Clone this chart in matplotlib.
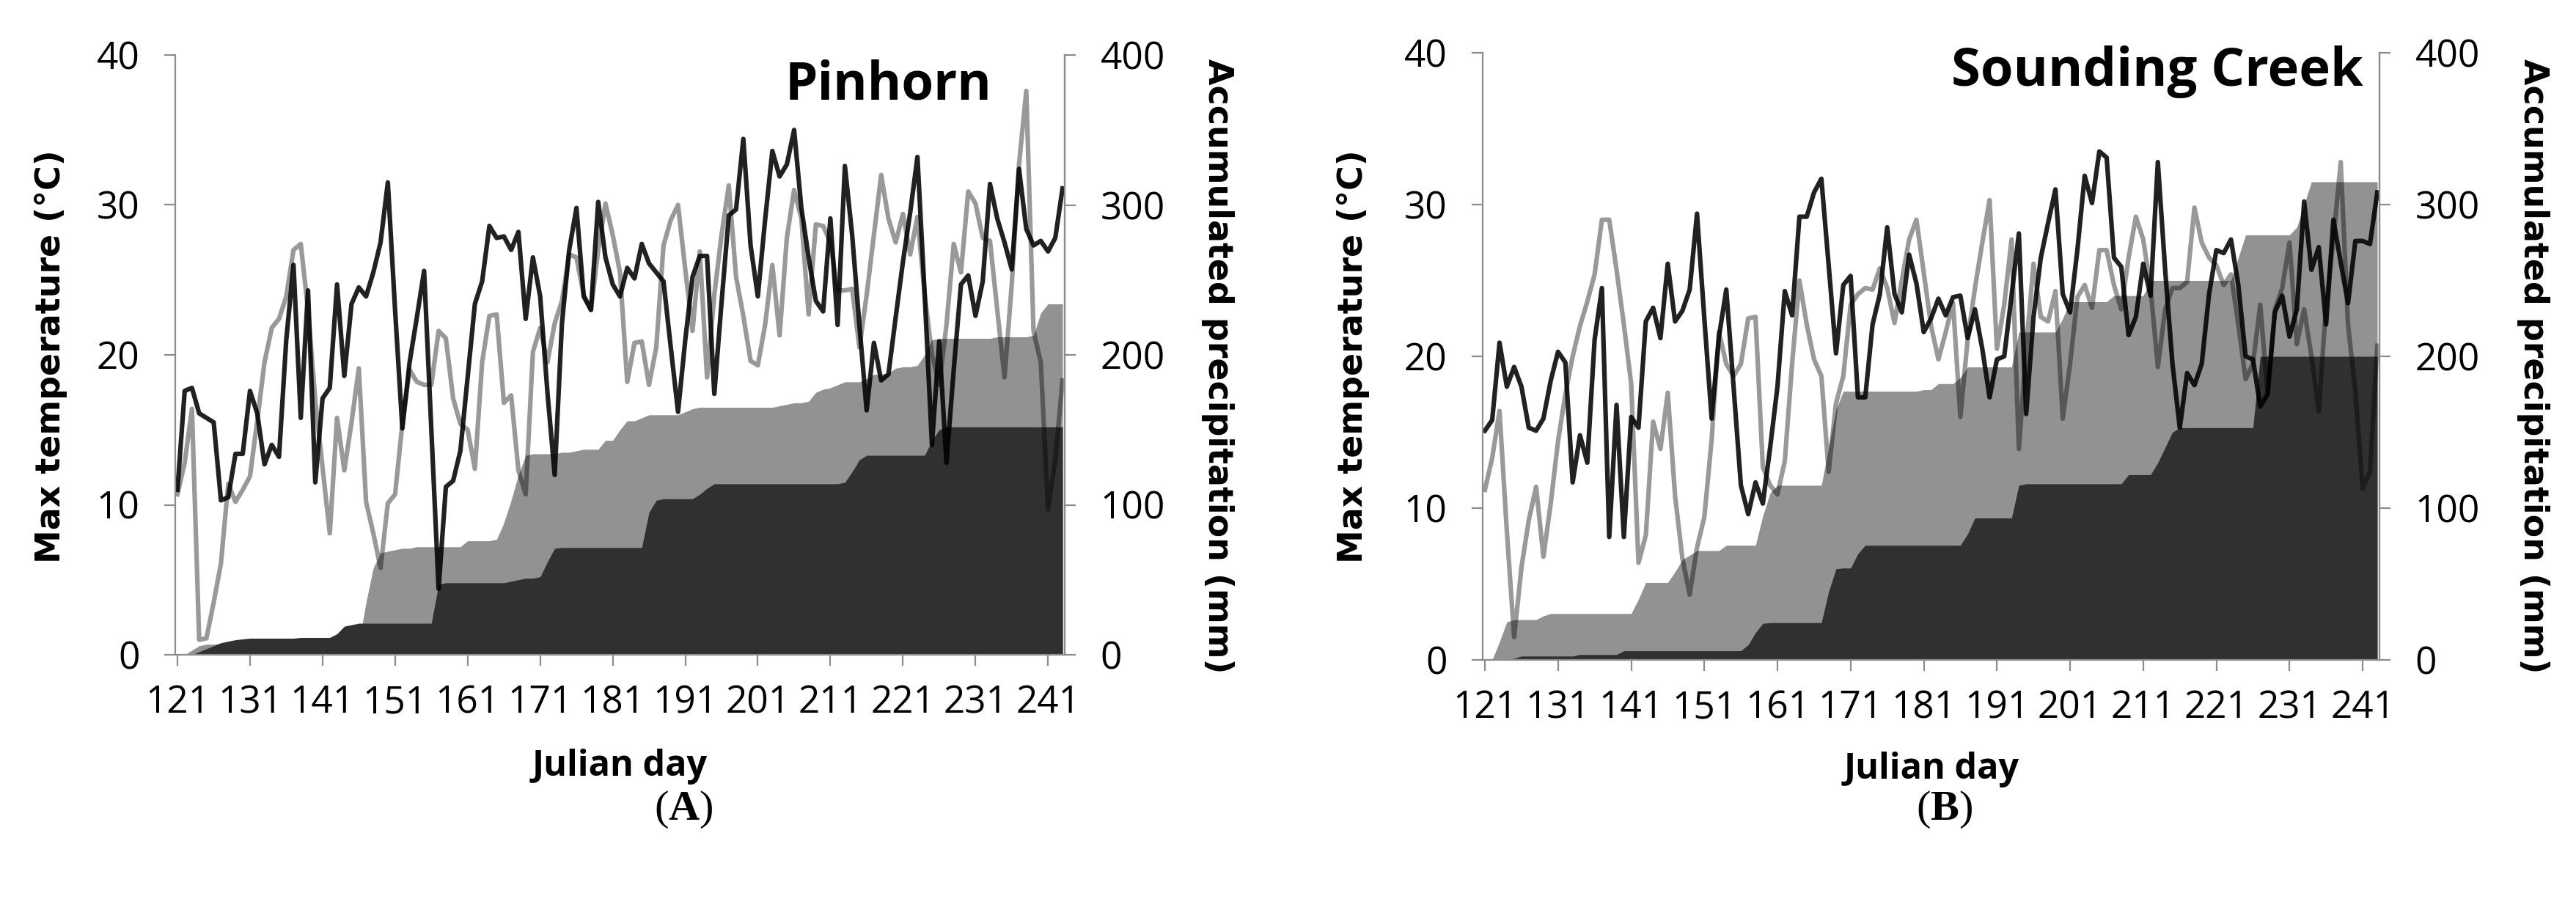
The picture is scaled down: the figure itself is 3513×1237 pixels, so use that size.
import numpy as np
import matplotlib
matplotlib.use('Agg')
from matplotlib import pyplot as plt

# Julian days shown on the x axis
days = np.arange(121, 244)
xtick_days = [121, 131, 141, 151, 161, 171, 181, 191, 201, 211, 221, 231, 241]
temp_ticks = [0, 10, 20, 30, 40]
precip_ticks = [0, 100, 200, 300, 400]

# Pinhorn - max temperature (black line, grey line), deg C
pin_tmax_black = [
    11.0, 17.6, 17.8, 16.1, 15.8, 15.5, 10.3, 10.5, 13.4, 13.4,
    17.6, 16.1, 12.7, 14.0, 13.2, 21.0, 26.0, 15.8, 24.3, 11.5,
    17.1, 17.8, 24.7, 18.6, 23.4, 24.5, 23.9, 25.5, 27.5, 31.5,
    23.0, 15.1, 19.5, 22.5, 25.6, 15.0, 4.4, 11.2, 11.6, 13.6,
    18.5, 23.4, 24.9, 28.6, 27.8, 27.9, 27.0, 28.2, 22.4, 26.5,
    23.9, 17.5, 12.0, 22.1, 27.0, 29.8, 23.9, 23.0, 30.2, 26.5,
    24.7, 23.9, 25.8, 25.1, 27.4, 26.1, 25.5, 24.9, 20.5, 16.2,
    21.0, 25.2, 26.6, 26.6, 17.4, 23.5, 29.3, 29.7, 34.4, 27.3,
    23.9, 29.0, 33.6, 31.9, 32.7, 35.0, 29.8, 26.5, 23.6, 22.9,
    29.1, 22.0, 32.6, 28.0, 22.0, 16.3, 20.8, 18.3, 18.7, 22.5,
    26.2, 29.5, 33.2, 24.0, 14.0, 20.9, 12.8, 19.0, 24.7, 25.3,
    22.6, 24.9, 31.4, 29.1, 27.5, 25.7, 32.4, 28.4, 27.3, 27.6,
    26.9, 27.8, 31.1]
pin_tmax_grey = [
    10.7, 12.8, 16.4, 1.0, 1.1, 3.5, 6.1, 11.4, 10.2, 11.0,
    11.9, 15.6, 19.5, 21.8, 22.4, 23.9, 27.0, 27.4, 23.0, 17.0,
    12.5, 8.1, 15.8, 12.3, 15.5, 19.1, 10.2, 8.1, 5.8, 10.1,
    10.7, 15.4, 19.0, 18.2, 18.0, 18.0, 21.6, 21.1, 17.1, 15.4,
    15.0, 12.4, 19.5, 22.6, 22.7, 16.8, 17.3, 12.3, 10.7, 20.2,
    21.8, 19.5, 22.1, 23.6, 26.7, 26.5, 24.0, 23.0, 27.0, 30.1,
    28.0, 25.5, 18.2, 20.8, 20.9, 18.0, 20.5, 27.3, 29.0, 30.0,
    25.7, 21.6, 26.9, 18.5, 24.0, 28.0, 31.3, 25.2, 22.6, 19.6,
    19.3, 22.0, 26.0, 21.3, 27.8, 31.0, 29.1, 22.7, 28.7, 28.6,
    27.5, 24.3, 24.3, 24.4, 20.5, 24.0, 28.0, 32.0, 29.1, 27.5,
    29.4, 26.7, 29.2, 24.0, 20.0, 18.0, 22.0, 27.4, 25.5, 30.9,
    30.1, 27.8, 27.6, 23.0, 18.5, 24.7, 32.7, 37.6, 21.6, 19.5,
    9.7, 13.0, 18.3]

# Pinhorn - accumulated precipitation (dark area, grey area), mm
pin_precip_dark = [
    0, 0, 0, 2, 4, 6, 8, 9, 10, 10.5,
    11, 11, 11, 11, 11, 11, 11, 11.5, 11.5, 11.5,
    11.5, 11.5, 14, 19, 20, 21, 21, 21, 21, 21,
    21, 21, 21, 21, 21, 21, 47, 48, 48, 48,
    48, 48, 48, 48, 48, 48, 49, 50, 51, 51,
    52, 62, 71, 71.5, 71.5, 71.5, 71.5, 71.5, 71.5, 71.5,
    71.5, 71.5, 71.5, 71.5, 71.5, 95, 103, 104, 104, 104,
    104, 104, 107, 111, 114, 114, 114, 114, 114, 114,
    114, 114, 114, 114, 114, 114, 114, 114, 114, 114,
    114, 114, 115, 122, 130, 133, 133, 133, 133, 133,
    133, 133, 133, 133, 143, 150, 152, 152, 152, 152,
    152, 152, 152, 152, 152, 152, 152, 152, 152, 152,
    152, 152, 152]
pin_precip_grey = [
    0, 0, 3, 6, 7, 7, 7.5, 7.5, 7.5, 7.5,
    7.5, 7.5, 7.5, 7.5, 7.5, 7.5, 7.5, 7.5, 7.5, 7.5,
    7.5, 7.5, 7.5, 7.5, 7.5, 7.5, 35, 58, 68, 69,
    70, 71, 71, 72, 72, 72, 72, 72, 72, 72,
    76, 76, 76, 76, 77, 88, 103, 120, 133, 134,
    134, 134, 134, 135, 135, 136, 137, 137, 137, 143,
    143, 150, 156, 156, 158, 160, 160, 160, 160, 160,
    162, 164, 165, 165, 165, 165, 165, 165, 165, 165,
    165, 165, 165, 166, 167, 168, 168, 169, 175, 177,
    178, 180, 182, 182, 182, 184, 187, 187, 188, 191,
    192, 192, 193, 200, 210, 211, 211, 211, 211, 211,
    211, 211, 211, 212, 212, 212, 212, 212, 213, 228,
    234, 234, 234]

# Sounding Creek - max temperature, deg C
snd_tmax_black = [
    15.1, 15.8, 20.9, 18.0, 19.3, 18.0, 15.3, 15.1, 15.9, 18.4,
    20.3, 19.6, 11.7, 14.8, 13.0, 21.1, 24.5, 8.1, 16.8, 8.1,
    16.0, 15.3, 22.3, 23.2, 21.2, 26.1, 22.3, 23.0, 24.4, 29.4,
    22.5, 15.9, 21.3, 24.4, 18.0, 11.5, 9.6, 11.7, 10.3, 14.0,
    18.0, 24.3, 22.7, 29.2, 29.2, 30.8, 31.7, 26.0, 20.2, 24.7,
    25.3, 17.3, 17.3, 22.1, 24.1, 28.5, 24.1, 22.9, 26.7, 24.8,
    21.6, 22.5, 23.8, 22.7, 23.9, 24.0, 21.2, 23.1, 20.5, 17.3,
    19.8, 20.0, 24.0, 28.1, 16.2, 22.6, 26.5, 28.8, 31.0, 24.1,
    22.9, 27.0, 31.9, 30.1, 33.5, 33.1, 26.5, 25.9, 21.4, 22.6,
    26.1, 24.0, 32.8, 25.7, 19.5, 15.3, 18.9, 18.1, 19.5, 24.1,
    27.0, 26.8, 27.7, 24.7, 20.0, 19.8, 16.7, 17.5, 22.9, 24.0,
    21.3, 23.1, 30.2, 25.7, 27.2, 22.1, 29.0, 26.2, 23.5, 27.6,
    27.6, 27.4, 30.8]
snd_tmax_grey = [
    11.2, 13.3, 16.4, 8.5, 1.5, 6.1, 9.2, 11.4, 6.8, 10.3,
    14.4, 17.5, 20.0, 22.0, 23.6, 25.4, 29.0, 29.0, 25.7, 22.1,
    18.2, 6.4, 8.2, 15.7, 13.9, 17.6, 10.8, 6.7, 4.3, 7.4,
    9.4, 14.5, 21.6, 19.5, 18.7, 19.5, 22.5, 22.6, 12.7, 11.5,
    10.9, 13.1, 19.5, 25.0, 22.1, 19.8, 18.7, 12.4, 16.9, 18.7,
    23.4, 24.1, 24.5, 24.4, 25.8, 24.5, 22.2, 25.0, 27.7, 29.0,
    25.5, 22.0, 19.8, 21.6, 23.5, 16.0, 21.1, 24.5, 27.5, 30.3,
    20.5, 23.4, 27.7, 13.9, 20.5, 26.1, 22.6, 22.3, 24.3, 15.9,
    19.5, 23.9, 24.7, 23.2, 27.0, 27.0, 24.7, 23.1, 26.5, 29.2,
    27.7, 24.5, 19.3, 23.1, 24.5, 24.5, 24.9, 29.8, 27.5, 26.5,
    26.0, 24.7, 25.4, 22.1, 18.5, 19.5, 23.4, 17.5, 23.1, 24.5,
    27.5, 20.8, 23.1, 20.0, 16.4, 23.4, 27.7, 32.8, 22.1, 17.7,
    11.3, 12.4, 20.7]

# Sounding Creek - accumulated precipitation, mm
snd_precip_dark = [
    0, 0, 0, 0, 1, 2.5, 2.5, 2.5, 2.5, 2.5,
    2.5, 2.5, 2.5, 3.5, 3.5, 3.5, 3.5, 3.5, 3.5, 6,
    6, 6, 6, 6, 6, 6, 6, 6, 6, 6,
    6, 6, 6, 6, 6, 6, 10, 18, 24, 24.5,
    24.5, 24.5, 24.5, 24.5, 24.5, 24.5, 24.5, 45, 60, 60.5,
    60.5, 70, 75.5, 75.5, 75.5, 75.5, 75.5, 75.5, 75.5, 75.5,
    75.5, 75.5, 75.5, 75.5, 75.5, 75.5, 83, 93.5, 93.5, 93.5,
    93.5, 93.5, 93.5, 115, 116, 116, 116, 116, 116, 116,
    116, 116, 116, 116, 116, 116, 116, 116, 122, 122,
    122, 122, 130, 140, 150, 153, 153, 153, 153, 153,
    153, 153, 153, 153, 153, 153, 200, 200, 200, 200,
    200, 200, 200, 200, 200, 200, 200, 200, 200, 200,
    200, 200, 200]
snd_precip_grey = [
    0, 0, 12, 25, 26.5, 26.5, 26.5, 26.5, 29, 30.5,
    30.5, 30.5, 30.5, 30.5, 30.5, 30.5, 30.5, 30.5, 30.5, 30.5,
    30.5, 40, 51, 51, 51, 51, 58, 66, 69, 72,
    72, 72, 72, 75.5, 75.5, 75.5, 75.5, 75.5, 95, 110,
    115, 115, 115, 115, 115, 115, 115, 140, 165, 177,
    177, 177, 177, 177, 177, 177, 177, 177, 177, 177,
    178, 178, 182, 182, 182, 186, 193, 193, 193, 193,
    193, 193, 193, 216, 216, 216, 216, 216, 216, 225,
    236, 236, 236, 236, 236, 236, 240, 240, 240, 240,
    240, 250, 250, 250, 250, 250, 250, 250, 250, 250,
    250, 250, 250, 265, 280, 280, 280, 280, 280, 280,
    280, 285, 300, 315, 315, 315, 315, 315, 315, 315,
    315, 315, 315]

W, H = 3513, 1237
AXIS_GREY = '#8c8c8c'
TICK_FONT = 'Open Sans'
LABEL_FONT = 'DejaVu Sans'

fig = plt.figure(figsize=(W / 100, H / 100), dpi=100)


def px(x, y):
    # pixel position of the reference image -> figure fraction
    return x / W, 1 - y / H


def draw_panel(left, top, right, bottom, t_black, t_grey, p_dark, p_grey):
    rect = [left / W, 1 - bottom / H, (right - left) / W, (bottom - top) / H]
    ax = fig.add_axes(rect)
    ax2 = ax.twinx()

    # accumulated precipitation areas on the right axis
    ax2.fill_between(days, 0, p_grey, color='#929292', lw=0)
    ax2.fill_between(days, 0, p_dark, color='#303030', lw=0)

    # temperature lines on the left axis, drawn above the areas
    ax.plot(days, t_grey, color='black', alpha=0.40, lw=4.5,
            solid_joinstyle='round')
    ax.plot(days, t_black, color='black', alpha=0.87, lw=4.5,
            solid_joinstyle='round')
    ax.set_zorder(ax2.get_zorder() + 1)
    ax.patch.set_visible(False)

    ax.set_xlim(120.7, 243.3)
    ax.set_ylim(0, 40)
    ax2.set_ylim(0, 400)
    ax.set_xticks(xtick_days)
    ax.set_yticks(temp_ticks)
    ax2.set_yticks(precip_ticks)

    for a in (ax, ax2):
        a.spines['top'].set_visible(False)
        for s in a.spines.values():
            s.set_color(AXIS_GREY)
            s.set_linewidth(1.6)
        a.tick_params(direction='out', length=11, width=1.6, color=AXIS_GREY,
                      labelsize=37, pad=24)
        for lab in a.get_xticklabels() + a.get_yticklabels():
            lab.set_fontfamily(TICK_FONT)
    ax2.spines['left'].set_visible(False)
    ax2.spines['bottom'].set_visible(False)
    ax.tick_params(axis='x', pad=18)
    return ax, ax2


draw_panel(239, 75, 1452, 893, pin_tmax_black, pin_tmax_grey,
           pin_precip_dark, pin_precip_grey)
draw_panel(2022, 72, 3245, 900, snd_tmax_black, snd_tmax_grey,
           snd_precip_dark, snd_precip_grey)

# site names
fig.text(*px(1352, 136), 'Pinhorn', ha='right', va='baseline',
         fontsize=51, fontweight='bold', family='Open Sans')
fig.text(*px(3223, 117), 'Sounding Creek', ha='right', va='baseline',
         fontsize=52, fontweight='bold', family='Open Sans')

# axis titles
for x in (70, 1845):
    fig.text(*px(x, 486), 'Max temperature (°C)', rotation=90, ha='center',
             va='center', fontsize=33, fontweight='bold', family=LABEL_FONT)
for x in (1660, 3454):
    fig.text(*px(x, 499), 'Accumulated precipitation (mm)', rotation=-90,
             ha='center', va='center', fontsize=33, fontweight='bold',
             family=LABEL_FONT)
for x, y in ((845, 1046), (2634, 1050)):
    fig.text(*px(x, y), 'Julian day', ha='center', va='center',
             fontsize=35, fontweight='bold', family='Open Sans')

# panel letters
plt.rcParams['mathtext.fontset'] = 'custom'
plt.rcParams['mathtext.bf'] = 'Liberation Serif:bold'
for x, letter in ((932, 'A'), (2652, 'B')):
    fig.text(*px(x, 1104), r'($\mathbf{' + letter + '}$)', ha='center',
             va='center', fontsize=42, family='Liberation Serif')

fig.savefig('out.png', dpi=100)
